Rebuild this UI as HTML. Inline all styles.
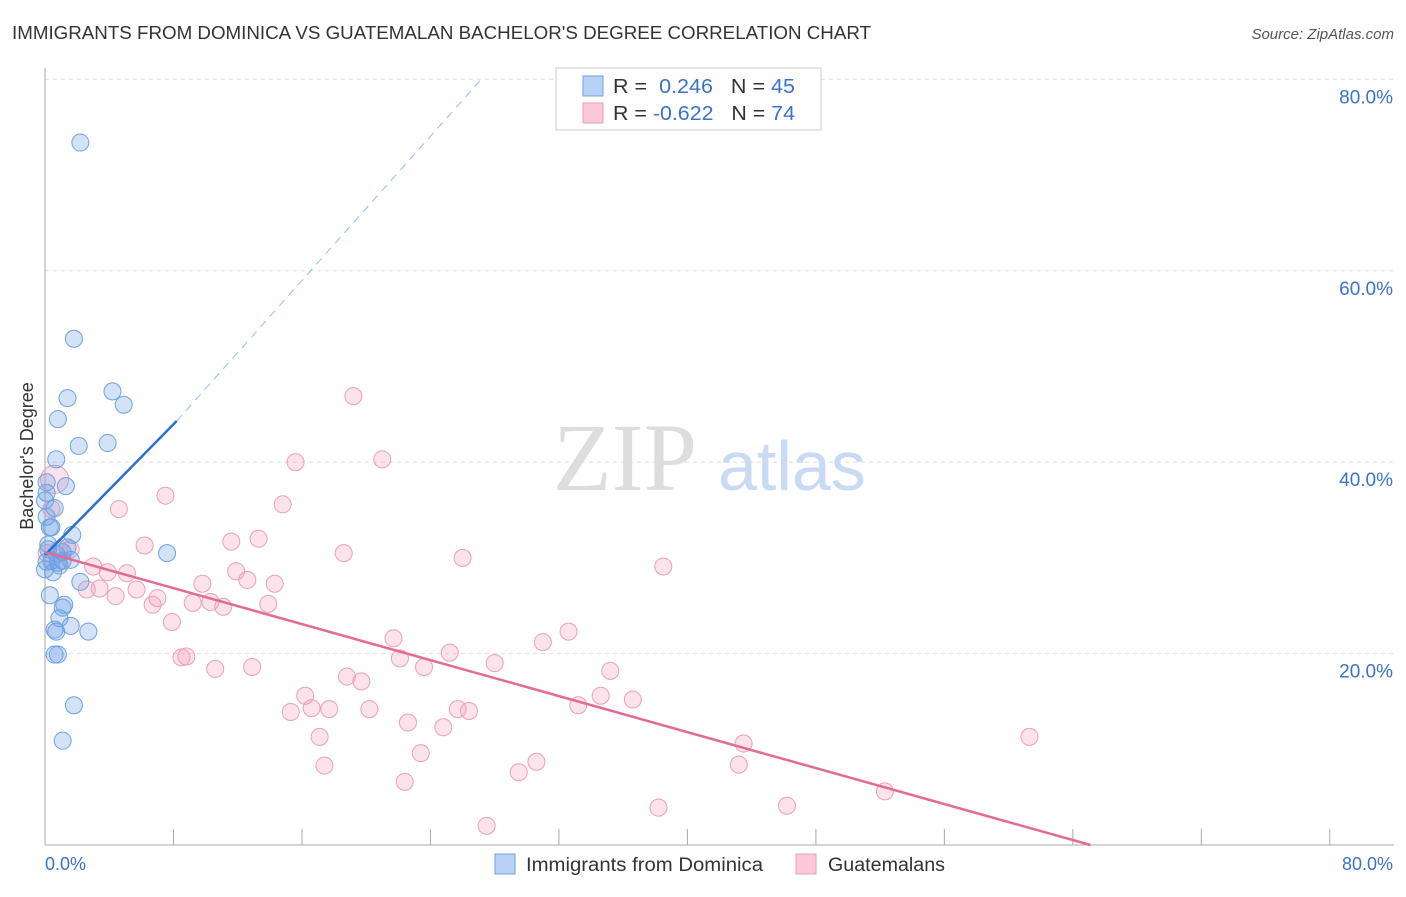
<!DOCTYPE html>
<html><head><meta charset="utf-8"><style>
body{margin:0;background:#fff;font-family:"Liberation Sans",sans-serif}
</style></head><body>
<svg width="1406" height="892" xmlns="http://www.w3.org/2000/svg" font-family="Liberation Sans, sans-serif">
<text x="12" y="39" font-size="18" fill="#333" textLength="859" lengthAdjust="spacingAndGlyphs">IMMIGRANTS FROM DOMINICA VS GUATEMALAN BACHELOR'S DEGREE CORRELATION CHART</text>
<text x="1394" y="39" font-size="15" fill="#555" text-anchor="end" font-style="italic">Source: ZipAtlas.com</text>
<g id="grid"></g>
<text x="553" y="490" font-size="96" fill="#ddd" font-family="Liberation Serif, serif">ZIP</text>
<text x="718" y="490" font-size="70" fill="#c9daf3">atlas</text>
<line x1="45" y1="68" x2="45" y2="845" stroke="#aaa"/>
<line x1="45" y1="845" x2="1394" y2="845" stroke="#aaa"/>
<text transform="translate(33,456) rotate(-90)" font-size="18" fill="#333" text-anchor="middle">Bachelor's Degree</text>
<text x="45" y="870" font-size="18" fill="#3b73c8">0.0%</text>
<text x="1393" y="870" font-size="18" fill="#3b73c8" text-anchor="end">80.0%</text>
<g id="pts"></g>
<g id="trend"></g>
<g>
<rect x="556" y="68" width="265" height="62" fill="#fff" stroke="#ccc"/>
<rect x="583" y="76" width="20" height="20" fill="#b8d2f5" stroke="#6fa1e0"/>
<rect x="583" y="103" width="20" height="20" fill="#fac8d8" stroke="#e8a0b8"/>
<text x="613" y="93" font-size="20" fill="#333" textLength="182" lengthAdjust="spacingAndGlyphs">R = <tspan fill="#3b73c8">&#160;0.246</tspan>&#160;&#160;&#160;N = <tspan fill="#3b73c8">45</tspan></text>
<text x="613" y="120" font-size="20" fill="#333" textLength="182" lengthAdjust="spacingAndGlyphs">R = <tspan fill="#3b73c8">-0.622</tspan>&#160;&#160;&#160;N = <tspan fill="#3b73c8">74</tspan></text>
</g>
<g>
<rect x="495" y="854" width="20" height="20" fill="#b8d2f5" stroke="#6fa1e0"/>
<text x="526" y="871" font-size="19" fill="#333" textLength="237" lengthAdjust="spacingAndGlyphs">Immigrants from Dominica</text>
<rect x="796" y="854" width="20" height="20" fill="#fac8d8" stroke="#e8a0b8"/>
<text x="828" y="871" font-size="19" fill="#333" textLength="117" lengthAdjust="spacingAndGlyphs">Guatemalans</text>
</g>
</svg>
<script>
const yTicks=[20,40,60,80];
const blueX=[2.2,1.8,4.2,4.9,1.4,0.8,2.1,3.9,0.7,0.1,1.3,0.1,0.6,0.1,0.3,0.4,1.7,0.2,0.7,1.1,1.4,0.4,0.8,1.1,0.1,0.5,2.2,0.3,1.2,1.1,0.9,1.6,0.6,0.7,2.7,0.6,0.8,1.8,1.1,7.6,0,0.2,0.9,1.6,0];
const blueY=[73.4,52.9,47.4,46,46.7,44.5,41.7,42,40.3,37.9,37.5,36.8,35.2,34.3,33.2,33.2,32.4,30.9,30.4,30.6,31.1,29.7,29.5,29.7,29.6,28.5,27.5,26.1,25.1,24.8,23.7,22.9,22.5,22.3,22.3,19.9,19.9,14.6,10.9,30.5,36,31.4,29.2,29.8,28.8];
const pinkX=[19.2,21.0,15.6,7.5,14.8,4.6,0.6,0.4,6.2,11.6,13.3,18.6,26.0,38.5,1.6,3.0,3.9,5.1,9.8,11.9,12.6,14.3,5.7,4.4,3.4,2.6,7.0,6.7,9.2,10.3,11.1,13.9,7.9,21.7,31.0,32.6,25.2,22.1,28.0,23.6,8.5,8.8,12.9,10.6,35.2,18.8,19.7,16.2,34.6,36.6,33.2,15.3,16.6,17.7,20.2,25.7,26.4,22.6,24.8,17.1,43.5,61.3,23.4,30.6,17.4,43.2,29.5,22.4,46.2,38.2,52.3,27.5,0.1,0.9];
const pinkY=[46.9,40.3,40,36.5,35.6,35.1,38.2,35.1,31.3,31.7,32,30.5,30,29.1,30.9,29.1,28.5,28.4,27.3,28.6,27.7,27.3,26.7,26,26.8,26.7,25.8,25.1,25.3,25.4,24.9,25.2,23.3,21.6,21.2,22.3,20.1,19.5,19,18.6,19.6,19.7,18.6,18.4,18.2,17.6,17.1,15.6,15.6,15.2,14.6,13.9,14.3,14.2,14.2,14.2,14,12.8,12.3,11.3,10.6,11.3,9.6,8.7,8.3,8.4,7.6,6.6,4.1,3.9,5.6,2,30.5,30.9];
const sx=v=>45+v*16.06, sy=v=>845-v*9.57;
const NS='http://www.w3.org/2000/svg';
const mk=(t,a,p)=>{const e=document.createElementNS(NS,t);for(const k in a)e.setAttribute(k,a[k]);p.appendChild(e);return e;};
const grid=document.getElementById('grid');
yTicks.forEach(v=>{
 const l=mk('line',{x1:45,x2:1394,y1:sy(v),y2:sy(v),stroke:'#ddd','stroke-dasharray':'4,4'},grid);
 
 
 const t=mk('text',{x:1393,y:sy(v)+24,'font-size':19,fill:'#3b73c8','text-anchor':'end'},grid);
 t.textContent=v.toFixed(1)+'%';
 
 
});
for(let i=1;i<=10;i++){const l=mk('line',{x1:sx(i*8),x2:sx(i*8),y1:829,y2:845,stroke:'#aaa'},grid);
 
 }
const pts=document.getElementById('pts');
pinkX.forEach((x,i)=>{const c=mk('circle',{cx:sx(x),cy:sy(pinkY[i]),r:i==6?14:8.5,fill:'rgba(244,160,188,0.3)',stroke:'#e8a0b8','stroke-width':1},pts);
 
 });
blueX.forEach((x,i)=>{const c=mk('circle',{cx:sx(x),cy:sy(blueY[i]),r:8.5,fill:'rgba(110,160,230,0.3)',stroke:'#6fa1e0','stroke-width':1},pts);
 
 });
const tr=document.getElementById('trend');
let l=mk('line',{x1:sx(0),y1:sy(30.3),x2:sx(8.2),y2:sy(44.3),stroke:'#2a6fd0','stroke-width':2.5},tr);


l=mk('line',{x1:sx(8.2),y1:sy(44.3),x2:sx(27.1),y2:sy(79.9),stroke:'#9bbbe6','stroke-width':1,'stroke-dasharray':'8,6'},tr);


l=mk('line',{x1:sx(0),y1:sy(30.6),x2:sx(65.1),y2:sy(0),stroke:'#e36a95','stroke-width':2.5},tr);


</script>
</body></html>
